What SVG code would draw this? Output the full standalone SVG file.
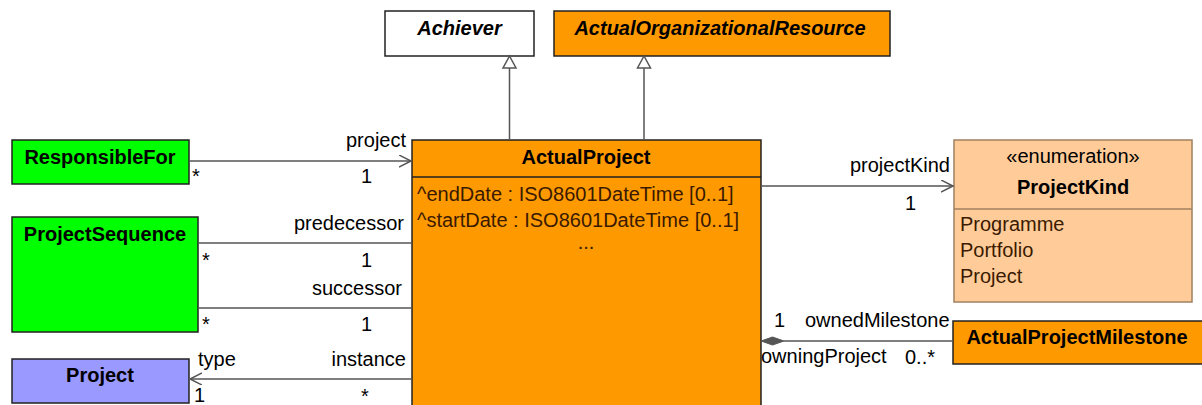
<svg xmlns="http://www.w3.org/2000/svg" width="1202" height="405" viewBox="0 0 1202 405">
<style>
text{font-family:"Liberation Sans",Arial,sans-serif;font-size:20px;fill:#000}
.b{font-weight:bold}
.i{font-style:italic;font-weight:bold}
.m{text-anchor:middle}
.e{text-anchor:end}
.box{stroke:#222;stroke-width:1.5}
.ln{stroke:#555;stroke-width:1.5;fill:none}
.tri{fill:#fff;stroke:#555;stroke-width:1.5}
.attr{fill:#3a1a00}
</style>
<defs>
<marker id="open" markerWidth="14" markerHeight="14" refX="12" refY="6" orient="auto" markerUnits="userSpaceOnUse">
<path d="M0,0 L12,6 L0,12" fill="none" stroke="#555" stroke-width="1.5"/>
</marker>
</defs>
<g id="Achiever"><rect class="box" x="385" y="11" width="149" height="45" fill="#fff"/><text class="i m" x="459.5" y="35">Achiever</text></g>
<g id="ActualOrganizationalResource"><rect class="box" x="554" y="11" width="336" height="45" fill="#FF9900"/><text class="i m" x="720" y="35">ActualOrganizationalResource</text></g>
<g id="ActualProject"><rect class="box" x="412" y="140" width="349" height="280" fill="#FF9900"/><line class="box" x1="412" y1="177" x2="761" y2="177"/><text class="b m" x="586" y="164">ActualProject</text>
<text class="attr" x="417" y="201">^endDate : ISO8601DateTime [0..1]</text>
<text class="attr" x="417" y="227">^startDate : ISO8601DateTime [0..1]</text>
<text class="attr m" x="586" y="249">...</text></g>
<g id="ResponsibleFor"><rect class="box" x="12" y="140" width="177" height="44" fill="#00FF00"/><text class="b m" x="100" y="164">ResponsibleFor</text></g>
<g id="ProjectSequence"><rect class="box" x="12" y="217" width="186" height="115" fill="#00FF00"/><text class="b m" x="105" y="241">ProjectSequence</text></g>
<g id="Project"><rect class="box" x="12" y="359" width="177" height="44" fill="#9999FF"/><text class="b m" x="100" y="382">Project</text></g>
<g id="ProjectKind"><rect x="954" y="140" width="238" height="162" fill="#FFCC99" stroke="#A08060" stroke-width="1.5"/><line x1="954" y1="209" x2="1192" y2="209" stroke="#A08060" stroke-width="1.5"/>
<text class="m" x="1073" y="163">«enumeration»</text><text class="b m" x="1073" y="194">ProjectKind</text>
<text x="960" y="231" class="attr">Programme</text><text x="960" y="257" class="attr">Portfolio</text><text x="960" y="283" class="attr">Project</text></g>
<g id="ActualProjectMilestone"><rect class="box" x="953" y="321" width="255" height="43" fill="#FF9900"/><text class="b m" x="1077" y="344">ActualProjectMilestone</text></g>
<g id="connectors">
<line class="ln" x1="509.5" y1="140" x2="509.5" y2="68"/>
<path class="tri" d="M509.5,56 L503,68 L516,68 Z"/>
<line class="ln" x1="644" y1="140" x2="644" y2="68"/>
<path class="tri" d="M644,56 L637.5,68 L650.5,68 Z"/>
<line class="ln" x1="189" y1="161" x2="411" y2="161" marker-end="url(#open)"/>
<text class="e" x="406" y="147">project</text><text x="192" y="183">*</text><text x="361" y="183">1</text>
<line class="ln" x1="198" y1="243" x2="412" y2="243"/>
<text class="e" x="404" y="230">predecessor</text><text x="202" y="267">*</text><text x="361" y="267">1</text>
<line class="ln" x1="198" y1="308" x2="412" y2="308"/>
<text class="e" x="402" y="295">successor</text><text x="202" y="331">*</text><text x="361" y="331">1</text>
<line class="ln" x1="412" y1="379" x2="190" y2="379" marker-end="url(#open)"/>
<text x="198" y="366">type</text><text class="e" x="406" y="366">instance</text><text x="194" y="402">1</text><text x="361" y="403">*</text>
<line class="ln" x1="761" y1="186" x2="953" y2="186" marker-end="url(#open)"/>
<text class="e" x="950" y="172">projectKind</text><text x="905" y="210">1</text>
<line class="ln" x1="784" y1="341" x2="953" y2="341"/>
<path d="M761,341 L772.5,337 L784,341 L772.5,345 Z" fill="#555" stroke="#555" stroke-width="1"/>
<text x="774" y="327">1</text><text x="805" y="327">ownedMilestone</text>
<text x="761" y="363">owningProject</text><text x="905" y="364">0..*</text>
</g>
</svg>
